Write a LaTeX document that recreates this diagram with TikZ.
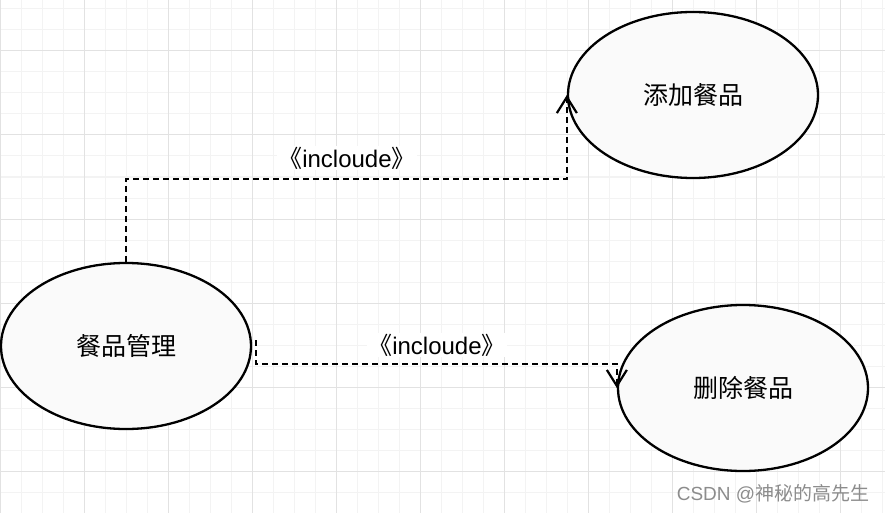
\documentclass[tikz,border=0pt]{standalone}
\usepackage{fontspec}
\setmainfont{Liberation Sans}
\newfontfamily\cjk{Noto Sans CJK SC}
\usetikzlibrary{arrows.meta,shapes.geometric}
\definecolor{gridminor}{HTML}{F3F3F3}
\definecolor{gridmajor}{HTML}{E2E2E2}
\definecolor{ufill}{HTML}{FAFAFA}
\definecolor{wmark}{HTML}{8C8C8C}
\begin{document}
\begin{tikzpicture}[x=1pt,y=-1pt,
  usecase/.style={ellipse, draw=black, line width=2.3pt, fill=ufill,
    minimum width=250pt, minimum height=166pt, inner sep=0pt,
    font=\cjk\fontsize{25}{29}\selectfont},
  dep/.style={line width=2.2pt, dash pattern=on 6pt off 4pt,
    -{Straight Barb[length=16pt,width=20pt,line width=2.2pt]}},
  lbl/.style={fill=white, inner sep=1pt, font=\fontsize{24}{28}\selectfont},
  minorline/.style={gridminor, line width=1pt},
  majorline/.style={gridmajor, line width=1pt}]
\useasboundingbox (0,0) rectangle (885,513);
\fill[white] (0,0) rectangle (885,513);
% grid
\foreach \x in {0,21,...,882} \draw[minorline] (\x,0) -- (\x,513);
\foreach \y in {9,30,...,512} \draw[minorline] (0,\y) -- (885,\y);
\foreach \x in {0,84,...,882} \draw[majorline] (\x,0) -- (\x,513);
\foreach \y in {51,135,...,512} \draw[majorline] (0,\y) -- (885,\y);
% use cases
\node[usecase] (a) at (693,95) {添加餐品};
\node[usecase] (m) at (126,346) {餐品管理};
\node[usecase] (d) at (743,388) {删除餐品};
% connectors
\draw[dep] (m.north) |- (a.west |- a.south) -- (a.west);
\draw[dep] ([xshift=4pt,yshift=6pt]m.east) |- ([yshift=24pt]d.west) -- (d.west);
% labels
\node[lbl] (l1) at (347,158) {{\cjk 《}incloude{\cjk 》}};
\node[lbl] (l2) at (437,345) {{\cjk 《}incloude{\cjk 》}};
% watermark
\node[text=wmark, font=\fontsize{19}{22}\selectfont, inner sep=0pt] (w) at (773,494) {CSDN @{\cjk 神秘的高先生}};
\end{tikzpicture}
\end{document}
